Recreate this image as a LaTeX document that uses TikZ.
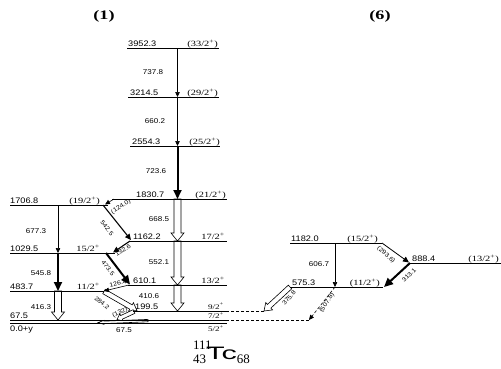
\documentclass[tikz,border=0pt]{standalone}
\usepackage{fontspec}
\usetikzlibrary{calc,arrows.meta}
\newfontfamily\labf{Liberation Sans}[FakeStretch=1.15]
\newfontfamily\spinf{Liberation Serif}[FakeStretch=1.3]
\newfontfamily\titf{Liberation Serif}[FakeStretch=1.4]
\newfontfamily\tcf{Liberation Sans}[FakeStretch=1.7]
\newfontfamily\serf{Liberation Serif}
\newcommand{\hollowarr}[5]{%
  \coordinate (hb) at ($(#2)!#5!(#1)$);
  \draw[hol] ($(#1)!#3!90:(#2)$) -- ($(hb)!#3!90:(#2)$) -- ($(hb)!#4!90:(#2)$) -- (#2)
    -- ($(hb)!#4!-90:(#2)$) -- ($(hb)!#3!-90:(#2)$) -- ($(#1)!#3!-90:(#2)$) -- cycle;}
\tikzset{
  lvl/.style={line width=0.9pt},
  en/.style={font=\labf\fontsize{8}{8}\selectfont, inner sep=0pt, anchor=base west},
  sp/.style={font=\spinf\fontsize{8}{8}\selectfont, inner sep=0pt, anchor=base east},
  tl/.style={font=\labf\fontsize{7}{7}\selectfont, inner sep=0pt},
  sl/.style={font=\labf\fontsize{6}{6}\selectfont, inner sep=0pt},
  thintr/.style={line width=0.6pt, -{Triangle[length=5pt,width=4.5pt]}},
  medtr/.style={line width=1.1pt, -{Triangle[length=6pt,width=5.5pt]}},
  thicktr/.style={line width=2pt, -{Triangle[length=9pt,width=8pt]}},
  hol/.style={line width=0.6pt, fill=white},
  dsh/.style={line width=0.6pt, dash pattern=on 3pt off 2pt},
}
\begin{document}
\begin{tikzpicture}[x=1pt,y=-1pt]
\path[use as bounding box] (0,0) rectangle (501,368);
% ---------- level end points, band (1)
\coordinate (a3952) at (127,48);  \coordinate (b3952) at (219,48);
\coordinate (a3214) at (128,97);  \coordinate (b3214) at (219,97);
\coordinate (a2554) at (130,146); \coordinate (b2554) at (220,146);
\coordinate (a1830) at (112,199); \coordinate (b1830) at (227,199);
\coordinate (a1706) at (10,205);  \coordinate (b1706) at (108,205);
\coordinate (a1162) at (129,241); \coordinate (b1162) at (227,241);
\coordinate (a1029) at (10,253);  \coordinate (b1029) at (115,253);
\coordinate (a610) at (128,285);  \coordinate (b610) at (227,285);
\coordinate (a483) at (10,291);   \coordinate (b483) at (104,291);
\coordinate (a199) at (133,311);  \coordinate (b199) at (227,311);
\coordinate (a67) at (10,320);    \coordinate (b67) at (227,320);
\coordinate (a0) at (10,323.5);   \coordinate (b0) at (227,323.5);
% ---------- band (6)
\coordinate (a1182) at (290,243); \coordinate (b1182) at (382,243);
\coordinate (a888) at (410,263);  \coordinate (b888) at (501,263);
\coordinate (a575) at (290,287);  \coordinate (b575) at (383,287);
% ---------- transition end points
\coordinate (c3952) at (177.5,48);  \coordinate (c3214) at (177.5,97);
\coordinate (c2554) at (177.5,146); \coordinate (c1830) at (177.5,199);
\coordinate (c1162) at (177.5,241); \coordinate (c610) at (177.5,285);
\coordinate (c199) at (177.5,311);
\coordinate (d1706) at (58,205); \coordinate (d1029) at (58,253);
\coordinate (d483) at (58,291);  \coordinate (d67) at (58,320);
\coordinate (s542) at (103,205);  \coordinate (e542) at (131,240);
\coordinate (s124) at (114,199);  \coordinate (e124) at (105,204.5);
\coordinate (s132) at (130,241);  \coordinate (e132) at (113,252.5);
\coordinate (s473) at (106,253);  \coordinate (e473) at (130,284.5);
\coordinate (s126) at (129,285);  \coordinate (e126) at (104,291);
\coordinate (s284) at (104,291.5); \coordinate (e284) at (137,310.5);
\coordinate (s1320) at (134,311.5); \coordinate (e1320) at (117,319.5);
\coordinate (s675) at (148,320.6); \coordinate (e675) at (98,322.6);
\coordinate (f1182) at (335,243); \coordinate (f575) at (335,287);
\coordinate (s293) at (382,243);  \coordinate (e293) at (409,262.5);
\coordinate (s313) at (410,263);  \coordinate (e313) at (384,287);
\coordinate (s375) at (290,287);  \coordinate (e375) at (264,311);
\coordinate (s507) at (335,287);  \coordinate (e507) at (309,320);
% ---------- hollow (double) arrows
\hollowarr{c1830}{c1162}{3.5pt}{6.5pt}{8pt}
\hollowarr{c1162}{c610}{3.5pt}{6.5pt}{8pt}
\hollowarr{c610}{c199}{3.5pt}{6.5pt}{8pt}
\hollowarr{d483}{d67}{3.5pt}{6.5pt}{8pt}
\hollowarr{s284}{e284}{2.5pt}{5pt}{7pt}
\hollowarr{s1320}{e1320}{2pt}{4pt}{5pt}
\hollowarr{s675}{e675}{1.2pt}{2pt}{6pt}
\hollowarr{s375}{e375}{2.5pt}{5pt}{7pt}
% ---------- levels
\foreach \l in {3952,3214,2554,1830,1706,1162,1029,610,483,199,67,0,1182,888,575}
  \draw[lvl] (a\l) -- (b\l);
% ---------- single-line transitions
\draw[thintr] (c3952) -- (c3214);
\draw[thintr] (c3214) -- (c2554);
\draw[thicktr] (c2554) -- (c1830);
\draw[thintr] (d1706) -- (d1029);
\draw[thicktr] (d1029) -- (d483);
\draw[medtr] (s542) -- (e542);
\draw[thintr] (s124) -- (e124);
\draw[medtr] (s132) -- (e132);
\draw[thicktr] (s473) -- (e473);
\draw[thintr] (s126) -- (e126);
\draw[thintr] (f1182) -- (f575);
\draw[medtr, line width=0.8pt] (s293) -- (e293);
\draw[thicktr] (s313) -- (e313);
\draw[dsh, -{Triangle[length=5pt,width=4.5pt]}] (s507) -- (e507);
\draw[dsh] (e507) -- (b67);
\draw[dsh] (e375) -- (b199);
% ---------- energy labels
\node[en] (n3952) at (128,46) {3952.3};
\node[en] (n3214) at (130,95) {3214.5};
\node[en] (n2554) at (132,144) {2554.3};
\node[en] (n1830) at (136,197) {1830.7};
\node[en] (n1706) at (10,203) {1706.8};
\node[en] (n1162) at (133,239) {1162.2};
\node[en] (n1029) at (10,251) {1029.5};
\node[en] (n610) at (133,283) {610.1};
\node[en] (n483) at (10,289) {483.7};
\node[en] (n199) at (135,309) {199.5};
\node[en] (n67) at (10,318) {67.5};
\node[en, anchor=north west] (n0) at (10,325.5) {0.0+y};
\node[en] (n1182) at (291,241) {1182.0};
\node[en] (n888) at (412,261) {888.4};
\node[en] (n575) at (292,285) {575.3};
% ---------- spin labels
\node[sp] (j3952) at (218,46) {(33/2\textsuperscript{+})};
\node[sp] (j3214) at (218,95) {(29/2\textsuperscript{+})};
\node[sp] (j2554) at (220,144) {(25/2\textsuperscript{+})};
\node[sp] (j1830) at (226,197) {(21/2\textsuperscript{+})};
\node[sp] (j1706) at (100,203) {(19/2\textsuperscript{+})};
\node[sp] (j1162) at (225,239) {17/2\textsuperscript{+}};
\node[sp] (j1029) at (100,251) {15/2\textsuperscript{+}};
\node[sp] (j610) at (225,283) {13/2\textsuperscript{+}};
\node[sp] (j483) at (100,289) {11/2\textsuperscript{+}};
\node[sp, font=\spinf\fontsize{7}{7}\selectfont] (j199) at (224,309) {9/2\textsuperscript{+}};
\node[sp, font=\spinf\fontsize{7}{7}\selectfont] (j67) at (224,318.3) {7/2\textsuperscript{+}};
\node[sp, font=\spinf\fontsize{7}{7}\selectfont, anchor=north east] (j0) at (224,325.5) {5/2\textsuperscript{+}};
\node[sp] (j1182) at (378,241) {(15/2\textsuperscript{+})};
\node[sp] (j888) at (499,261) {(13/2\textsuperscript{+})};
\node[sp] (j575) at (380,285) {(11/2\textsuperscript{+})};
% ---------- transition labels
\node[tl] (g737) at (153,72) {737.8};
\node[tl] (g660) at (155,121) {660.2};
\node[tl] (g723) at (156,171) {723.6};
\node[tl] (g668) at (159,219) {668.5};
\node[tl] (g552) at (159,262) {552.1};
\node[tl] (g410) at (149,296) {410.6};
\node[tl] (g677) at (36,231) {677.3};
\node[tl] (g545) at (41,273) {545.8};
\node[tl] (g416) at (41,307) {416.3};
\node[tl] (g606) at (319,264) {606.7};
\node[tl] (g67) at (124,330) {67.5};
\node[sl, rotate=-52] (g542) at (107,228) {542.5};
\node[sl, rotate=32] (g124) at (121,207) {(124.0)};
\node[sl, rotate=33] (g132) at (123,250) {132.6};
\node[sl, rotate=-52] (g473) at (108,268) {473.5};
\node[sl, rotate=15] (g126) at (118,283.5) {126.4};
\node[sl, rotate=-40] (g284) at (102,303) {284.2};
\node[sl, rotate=25] (g1320) at (120,312.5) {(132)};
\node[sl, rotate=-42] (g293) at (386,255) {(293.6)};
\node[sl, rotate=45] (g313) at (409,275) {313.1};
\node[sl, rotate=48] (g375) at (289,298) {375.8};
\node[sl, rotate=56] (g507) at (327,303) {(507.8)};
% ---------- titles and nucleus
\node[font=\titf\bfseries\fontsize{13}{13}\selectfont] (t1) at (104,16) {(1)};
\node[font=\titf\bfseries\fontsize{13}{13}\selectfont] (t6) at (380,16) {(6)};
\node[anchor=base west, inner sep=0pt] (nuc) at (193,359)
  {\serf\fontsize{13}{13}\selectfont\rlap{\raisebox{10pt}{111}}\raisebox{-4pt}{43}%
   {\tcf\fontsize{18}{18}\selectfont Tc}\raisebox{-4pt}{68}};
\end{tikzpicture}
\end{document}
